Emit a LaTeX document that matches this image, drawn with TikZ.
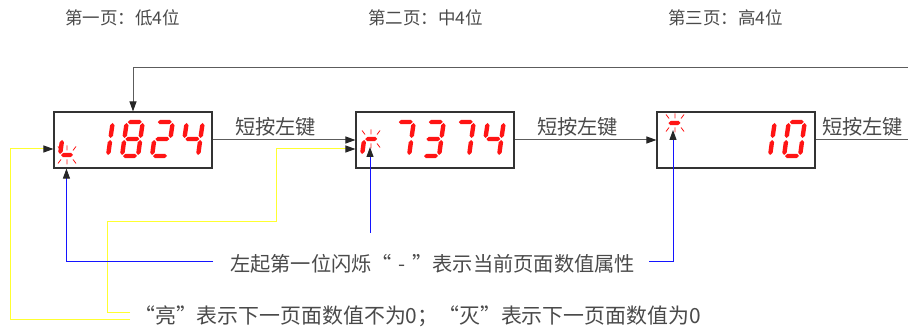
\documentclass[tikz,border=0pt]{standalone}
\usepackage{fontspec}
\newfontfamily\cjk{Noto Sans CJK SC}
\usetikzlibrary{arrows.meta}
\definecolor{txtc}{HTML}{4A4A4A}
\definecolor{lnc}{HTML}{5C5C5C}
\definecolor{boxc}{HTML}{333333}
\definecolor{segred}{HTML}{FF1414}
\definecolor{yelc}{HTML}{FFFF30}
\definecolor{bluc}{HTML}{1414FF}
\newcommand\hseg[3]{\fill[segred] (#1,#3) -- (#1+2.2,#3+2.2) -- (#2-2.2,#3+2.2) -- (#2,#3) -- (#2-2.2,#3-2.2) -- (#1+2.2,#3-2.2) -- cycle;}
\newcommand\vseg[3]{\fill[segred] (#1,#2) -- (#1+2.2,#2+2.2) -- (#1+2.2,#3-2.2) -- (#1,#3) -- (#1-2.2,#3-2.2) -- (#1-2.2,#2+2.2) -- cycle;}
\newcommand\SgA{\hseg{1}{15}{34}}
\newcommand\SgB{\vseg{16}{18}{33}}
\newcommand\SgC{\vseg{16}{1}{16}}
\newcommand\SgD{\hseg{1}{15}{0}}
\newcommand\SgE{\vseg{0}{1}{16}}
\newcommand\SgF{\vseg{0}{18}{33}}
\newcommand\SgG{\hseg{1}{15}{17}}
\newcommand\InA{\hseg{1}{13}{32}}
\newcommand\InD{\hseg{1}{13}{0}}
\newcommand\InE{\vseg{0}{1}{15}}
\newcommand\InG{\hseg{1}{13}{16}}
\newcommand\segdigit[3]{\begin{scope}[shift={(#1,#2)},x=1pt,y=1pt,xslant=0.14]#3\end{scope}}
\newcommand\sparkat[2]{\begin{scope}[shift={(#1,#2)}]\draw[segred,line width=0.8pt] (-6,-4.5)--(-9,-8.5) (0,-4.5)--(0,-9.5) (6,-4.5)--(9,-8.5) (-6,4.5)--(-9,8.5) (0,4.5)--(0,9.5) (6,4.5)--(9,8.5);\end{scope}}
\newcommand\qL{\makebox[1em][r]{“}}
\newcommand\qR{\makebox[1em][l]{”}}
\begin{document}
\begin{tikzpicture}[x=1pt,y=-1pt,
  txt/.style={inner sep=0pt,text=txtc,font=\cjk\fontsize{20.25}{24}\selectfont},
  txtb/.style={inner sep=0pt,text=txtc,font=\cjk\fontsize{20.9}{24}\selectfont},
  ttl/.style={inner sep=0pt,text=txtc,font=\cjk\fontsize{17.5}{20}\selectfont},
  box/.style={draw=boxc,line width=1.1pt,minimum width=158pt,minimum height=56pt,inner sep=0pt},
  tip/.style={-{Triangle[length=10pt,width=7pt,color=black!85]}},
  conn/.style={draw=lnc,line width=1pt},
  yl/.style={draw=yelc,line width=1pt},
  bl/.style={draw=bluc,line width=1pt}]
\useasboundingbox (0,0) rectangle (908,331);
% titles
\node[ttl,anchor=west] (ti1) at (65,18) {第一页：低4位};
\node[ttl,anchor=west] (ti2) at (368,18) {第二页：中4位};
\node[ttl,anchor=west] (ti3) at (668,18) {第三页：高4位};
% boxes
\node[box] (b1) at (133,140) {};
\node[box] (b2) at (435,140) {};
\node[box] (b3) at (736,140) {};
% digits box1: 1824
\segdigit{92}{156}{\SgB\SgC}
\segdigit{122}{156}{\SgA\SgB\SgC\SgD\SgE\SgF\SgG}
\segdigit{152}{156}{\SgA\SgB\SgG\SgE\SgD}
\segdigit{182}{156}{\SgF\SgG\SgB\SgC}
% digits box2: 7374
\segdigit{393}{156}{\SgA\SgB\SgC}
\segdigit{423}{156}{\SgA\SgB\SgG\SgC\SgD}
\segdigit{453}{156}{\SgA\SgB\SgC}
\segdigit{483}{156}{\SgF\SgG\SgB\SgC}
% digits box3: 10
\segdigit{754}{156}{\SgB\SgC}
\segdigit{784}{156}{\SgA\SgB\SgC\SgD\SgE\SgF}
% indicators
\segdigit{60}{155}{\InE\InD}
\sparkat{67}{155}
\segdigit{362}{155}{\InE\InG}
\sparkat{371}{139}
\segdigit{663}{155}{\InA}
\sparkat{675}{123}
% labels
\node[txt,anchor=west] (l1) at (235,127) {短按左键};
\node[txt,anchor=west] (l2) at (537,127) {短按左键};
\node[txt,anchor=west] (l3) at (822,127) {短按左键};
\node[txt,anchor=west] (t1) at (230,264) {左起第一位闪烁\qL\makebox[1em]{-}\qR 表示当前页面数值属性};
\node[txtb,anchor=west] (t2) at (134,316) {\qL 亮\qR 表示下一页面数值不为0；\qL 灭\qR 表示下一页面数值为0};
% coordinates
\coordinate (rE) at (909,140);
\coordinate (rT) at (909,68);
\coordinate (lT) at (133,68);
\coordinate (bl1) at (213,262);
\coordinate (bm2) at (370,233);
\coordinate (ind2) at (370,147);
\coordinate (br1) at (649,262);
\coordinate (ind3) at (673,130);
\coordinate (y1) at (130,319);
\coordinate (y2) at (130,312);
% main flow
\draw[conn,tip] (b1.east) -- (b2.west);
\draw[conn,tip] (b2.east) -- (b3.west);
\draw[conn,tip] (b3.east) -- (rE) -- (rT) -- (lT) -- (b1.north);
% yellow
\draw[yl,tip] (y1) -- (10,319) |- ([yshift=-9pt]b1.west);
\draw[yl,tip] (y2) -- (107,312) -- (107,222) -- (276,222) |- ([yshift=-9pt]b2.west);
% blue
\draw[bl,tip] (bl1) -| ([xshift=13pt]b1.south west);
\draw[bl,tip] (bm2) -- (ind2);
\draw[bl,tip] (br1) -| (ind3);
\end{tikzpicture}
\end{document}
